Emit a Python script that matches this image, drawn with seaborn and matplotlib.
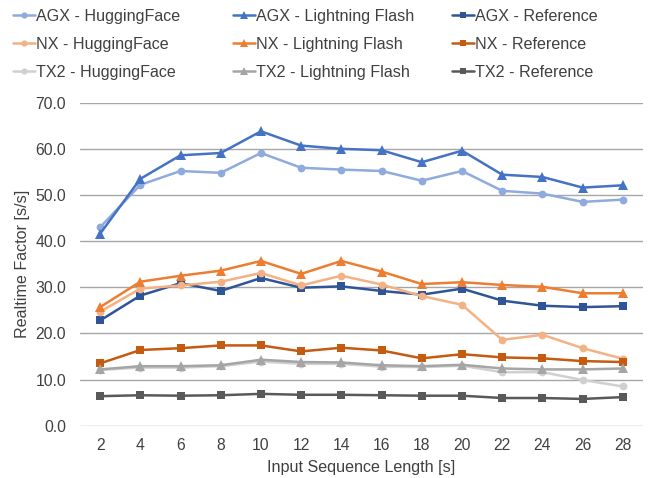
import numpy as np
import pandas as pd
import seaborn as sns
import matplotlib
matplotlib.use("Agg")
import matplotlib.pyplot as plt
from matplotlib.lines import Line2D

seq_len = [2, 4, 6, 8, 10, 12, 14, 16, 18, 20, 22, 24, 26, 28]

agx_hf = [43.0, 52.2, 55.2, 54.8, 59.1, 55.9, 55.5, 55.2, 53.1, 55.2, 50.9, 50.3, 48.5, 49.0]
agx_lf = [41.6, 53.5, 58.6, 59.1, 63.8, 60.7, 60.0, 59.7, 57.1, 59.6, 54.4, 53.9, 51.6, 52.1]
agx_ref = [22.8, 28.2, 30.9, 29.2, 32.0, 29.9, 30.2, 29.2, 28.4, 29.7, 27.1, 26.0, 25.7, 25.9]
nx_hf = [24.7, 29.7, 30.4, 31.2, 33.1, 30.4, 32.5, 30.6, 28.1, 26.2, 18.6, 19.7, 16.8, 14.5]
nx_lf = [25.7, 31.2, 32.5, 33.6, 35.7, 32.9, 35.7, 33.4, 30.7, 31.1, 30.5, 30.1, 28.7, 28.7]
nx_ref = [13.5, 16.4, 16.8, 17.4, 17.4, 16.1, 16.9, 16.3, 14.6, 15.5, 14.8, 14.6, 14.0, 13.8]
tx2_hf = [12.1, 12.6, 12.6, 12.9, 13.9, 13.4, 13.4, 12.8, 12.7, 13.0, 11.6, 11.6, 9.9, 8.5]
tx2_lf = [12.2, 12.9, 12.9, 13.1, 14.3, 13.8, 13.7, 13.1, 12.9, 13.2, 12.4, 12.2, 12.2, 12.4]
tx2_ref = [6.4, 6.6, 6.5, 6.6, 6.9, 6.7, 6.7, 6.6, 6.5, 6.5, 6.0, 6.0, 5.8, 6.2]

series = {
    "AGX - HuggingFace": agx_hf,
    "AGX - Lightning Flash": agx_lf,
    "AGX - Reference": agx_ref,
    "NX - HuggingFace": nx_hf,
    "NX - Lightning Flash": nx_lf,
    "NX - Reference": nx_ref,
    "TX2 - HuggingFace": tx2_hf,
    "TX2 - Lightning Flash": tx2_lf,
    "TX2 - Reference": tx2_ref,
}
colors = {
    "AGX - HuggingFace": "#8FAADC",
    "AGX - Lightning Flash": "#4472C4",
    "AGX - Reference": "#2F5597",
    "NX - HuggingFace": "#F4B183",
    "NX - Lightning Flash": "#ED7D31",
    "NX - Reference": "#C55A11",
    "TX2 - HuggingFace": "#D0D0D0",
    "TX2 - Lightning Flash": "#A5A5A5",
    "TX2 - Reference": "#595959",
}
markers = {}
msizes = {}
for k in series:
    if "HuggingFace" in k:
        markers[k] = "o"; msizes[k] = 5.6
    elif "Lightning" in k:
        markers[k] = "^"; msizes[k] = 6.6
    else:
        markers[k] = "s"; msizes[k] = 5.2

rows = []
for name, vals in series.items():
    for x, v in zip(seq_len, vals):
        rows.append({"x": x, "y": v, "series": name})
df = pd.DataFrame(rows)

sns.set_theme(style="white")
plt.rcParams["font.family"] = ["Liberation Sans", "DejaVu Sans"]

FS = 11.6
fig = plt.figure(figsize=(6.52, 4.78), dpi=100)
ax = fig.add_axes([80/652, 1 - 425.7/478, (643-80)/652, (425.7-102.7)/478])

names = list(series.keys())
sns.lineplot(data=df, x="x", y="y", hue="series", style="series",
             palette=colors, markers=markers, dashes=False,
             hue_order=names, style_order=names,
             linewidth=1.8, markersize=6, markeredgewidth=0, ax=ax, legend=False)
for line, name in zip(ax.lines, names):
    line.set_markersize(msizes[name])

ax.set_xlim(1, 29)
ax.set_ylim(0, 70)
ax.set_xticks(seq_len)
ax.set_xticklabels([str(s) for s in seq_len])
ax.set_yticks(np.arange(0, 71, 10))
ax.set_yticklabels([f"{v:.1f}" for v in np.arange(0, 71, 10)])
ax.yaxis.grid(True, color="#a6a6a6", linewidth=1)
ax.set_axisbelow(True)
for s in ax.spines.values():
    s.set_visible(False)
ax.tick_params(axis="y", length=0, labelsize=11.3, colors="#404040", pad=10)
ax.tick_params(axis="x", length=0, labelsize=11.3, colors="#404040", pad=9)
ax.set_xlabel("Input Sequence Length [s]", fontsize=FS, labelpad=5, color="#404040")
ax.set_ylabel("Realtime Factor [s/s]", fontsize=FS, labelpad=4, color="#404040")

groups = [
    ["AGX - HuggingFace", "NX - HuggingFace", "TX2 - HuggingFace"],
    ["AGX - Lightning Flash", "NX - Lightning Flash", "TX2 - Lightning Flash"],
    ["AGX - Reference", "NX - Reference", "TX2 - Reference"],
]
col_x = [13, 233, 452]
for gx, grp in zip(col_x, groups):
    handles = [Line2D([], [], color=colors[k], marker=markers[k], linewidth=1.8,
                      markersize=msizes[k] * 0.8, markeredgewidth=0) for k in grp]
    leg = fig.legend(handles, grp, ncol=1, loc="upper left",
                     bbox_to_anchor=(gx / 652, 1 - 9 / 478),
                     frameon=False, fontsize=FS, handlelength=1.35, handletextpad=0.05,
                     labelspacing=0.8, borderpad=0, borderaxespad=0)
    for t in leg.get_texts():
        t.set_color("#404040")

fig.savefig("out.png", dpi=100)
